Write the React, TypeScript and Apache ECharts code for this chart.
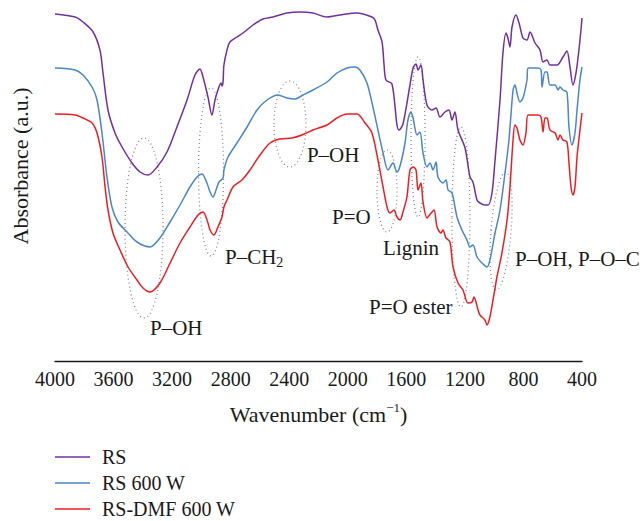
import React, { useEffect, useRef } from "react";
import * as echarts from "echarts";

// Wavenumber (cm^-1), absorbance (a.u.)
const rsData: [number, number][] = [
  [4000, 347], [3863, 344], [3809, 339], [3740, 329], [3693, 311], [3672, 288], [3638, 251],
  [3590, 228], [3542, 214], [3474, 198], [3419, 189], [3365, 186], [3303, 194], [3235, 209],
  [3167, 234], [3098, 261], [3044, 286], [3010, 292], [2989, 284], [2955, 264], [2928, 246],
  [2907, 261], [2887, 271], [2866, 278], [2859, 275], [2852, 279], [2846, 296], [2825, 311],
  [2805, 319], [2757, 324], [2716, 328], [2647, 336], [2579, 342], [2511, 344], [2415, 348],
  [2326, 349], [2238, 348], [2142, 344], [2053, 346], [1937, 348], [1835, 344], [1814, 341],
  [1794, 331], [1766, 319], [1752, 296], [1739, 281], [1698, 277], [1664, 236], [1650, 231],
  [1623, 237], [1575, 276], [1554, 293], [1534, 297], [1520, 291], [1500, 296], [1486, 281],
  [1459, 256], [1425, 251], [1397, 253], [1370, 244], [1336, 249], [1309, 251], [1288, 241],
  [1268, 249], [1247, 231], [1199, 213], [1165, 184], [1145, 179], [1117, 161], [1097, 158],
  [1063, 156], [1042, 156], [1015, 168], [994, 201], [960, 261], [940, 308], [919, 328],
  [906, 323], [892, 314], [878, 334], [851, 346], [830, 338], [803, 323], [776, 321],
  [755, 329], [721, 318], [687, 311], [666, 299], [639, 301], [619, 296], [571, 296],
  [530, 304], [503, 310], [482, 294], [462, 276], [441, 288], [421, 311], [407, 331], [400, 343],
];

const rs600Data: [number, number][] = [
  [4000, 293], [3863, 291], [3809, 286], [3747, 274], [3713, 261], [3679, 228], [3645, 184],
  [3611, 154], [3570, 139], [3508, 129], [3440, 119], [3351, 114], [3283, 123], [3214, 139],
  [3146, 156], [3078, 174], [3030, 184], [2996, 187], [2962, 178], [2941, 169], [2921, 164],
  [2900, 171], [2880, 179], [2852, 183], [2846, 191], [2818, 204], [2757, 218], [2688, 234],
  [2620, 251], [2552, 261], [2477, 266], [2415, 263], [2361, 262], [2306, 266], [2238, 271],
  [2142, 279], [2074, 288], [2005, 293], [1951, 294], [1917, 291], [1869, 278], [1828, 254],
  [1794, 231], [1759, 208], [1725, 191], [1691, 198], [1664, 189], [1643, 195], [1609, 218],
  [1589, 241], [1568, 249], [1554, 243], [1527, 226], [1507, 229], [1486, 208], [1459, 194],
  [1438, 198], [1418, 191], [1397, 199], [1384, 184], [1350, 178], [1329, 181], [1315, 171],
  [1288, 168], [1254, 144], [1220, 131], [1186, 121], [1165, 114], [1145, 116], [1117, 104],
  [1083, 98], [1049, 94], [1029, 101], [994, 128], [960, 151], [926, 188], [899, 221],
  [871, 271], [858, 276], [844, 268], [824, 259], [803, 263], [776, 281], [769, 293],
  [735, 293], [701, 293], [680, 291], [673, 274], [653, 289], [639, 289], [619, 276],
  [584, 276], [564, 271], [550, 274], [530, 271], [503, 269], [489, 234], [468, 216],
  [448, 228], [434, 251], [414, 281], [400, 294],
];

const rsDmfData: [number, number][] = [
  [4000, 247], [3863, 246], [3809, 243], [3747, 238], [3713, 228], [3679, 204], [3658, 174],
  [3638, 151], [3604, 128], [3556, 111], [3501, 94], [3440, 81], [3399, 73], [3351, 69],
  [3283, 78], [3214, 98], [3146, 118], [3078, 134], [3023, 146], [2989, 149], [2955, 138],
  [2941, 131], [2914, 126], [2887, 134], [2859, 144], [2846, 154], [2825, 161], [2784, 174],
  [2723, 181], [2668, 191], [2600, 206], [2531, 218], [2463, 222], [2381, 223], [2313, 226],
  [2238, 231], [2142, 236], [2074, 243], [2005, 247], [1937, 247], [1882, 238], [1835, 228],
  [1794, 201], [1759, 174], [1732, 154], [1712, 148], [1684, 151], [1664, 144], [1643, 141],
  [1623, 149], [1596, 164], [1575, 191], [1554, 194], [1534, 191], [1520, 171], [1500, 178],
  [1486, 159], [1459, 143], [1431, 148], [1411, 151], [1390, 134], [1363, 128], [1350, 131],
  [1329, 123], [1302, 119], [1281, 94], [1247, 78], [1213, 71], [1179, 58], [1151, 59],
  [1138, 64], [1110, 51], [1097, 46], [1063, 41], [1049, 36], [1029, 44], [1008, 61],
  [981, 84], [947, 108], [912, 141], [892, 174], [871, 221], [858, 236], [844, 233],
  [824, 221], [803, 216], [783, 228], [769, 246], [735, 246], [701, 246], [680, 244],
  [666, 229], [653, 243], [639, 243], [619, 231], [584, 228], [564, 221], [550, 226],
  [530, 221], [503, 219], [489, 198], [475, 174], [462, 166], [448, 174], [434, 204],
  [414, 231], [400, 248],
];

const seriesNames = ["RS", "RS 600 W", "RS-DMF 600 W"];
const seriesColors = ["#7030A0", "#4A86C8", "#EE1D24"];

// Band annotations: [wavenumber, absorbance] centre of the dotted ellipse
const bandEllipses = [
  { w: 3392, v: 133, rx: 19, ry: 90, rot: 0 },
  { w: 2934, v: 189, rx: 12.5, ry: 84, rot: 0 },
  { w: 2395, v: 237, rx: 16, ry: 43, rot: 0 },
  { w: 1732, v: 170, rx: 10, ry: 41, rot: 0 },
  { w: 1520, v: 224, rx: 7, ry: 80, rot: 0 },
  { w: 1227, v: 144, rx: 9, ry: 90, rot: 0 },
  { w: 953, v: 130, rx: 10, ry: 59, rot: -0.08 },
];

const bandLabels = [
  { w: 3351, v: 33, text: "{a|P–OH}" },
  { w: 2839, v: 104, text: "{a|P–CH}{sub|2}" },
  { w: 2279, v: 206, text: "{a|P–OH}" },
  { w: 2108, v: 144, text: "{a|P=O}" },
  { w: 1759, v: 113, text: "{a|Lignin}" },
  { w: 1855, v: 54, text: "{a|P=O ester}" },
  { w: 858, v: 102, text: "{a|P–OH, P–O–C}" },
];

const FONT = "'Liberation Serif', 'Times New Roman', serif";
const TEXT = "#1a1a1a";

export default function App() {
  const ref = useRef<HTMLDivElement>(null);

  useEffect(() => {
    const chart = echarts.init(ref.current!, null, { renderer: "svg" });
    const datasets = [rsData, rs600Data, rsDmfData];
    chart.setOption({
      animation: false,
      backgroundColor: "#ffffff",
      grid: { left: 55, right: 62, top: 1, bottom: 160 },
      xAxis: {
        type: "value",
        min: 400,
        max: 4000,
        interval: 400,
        inverse: true,
        axisLine: { show: true, lineStyle: { color: "#1a1a1a", width: 1.3 } },
        axisTick: { show: false },
        splitLine: { show: false },
        axisLabel: {
          color: TEXT,
          fontFamily: FONT,
          fontSize: 20,
          margin: 8,
          formatter: (v: number) => String(v),
        },
        name: "{a|Wavenumber (cm}{s|−1}{a|)}",
        nameLocation: "middle",
        nameGap: 40,
        nameTextStyle: {
          rich: {
            a: { fontFamily: FONT, fontSize: 22, color: TEXT, lineHeight: 26 },
            s: { fontFamily: FONT, fontSize: 13, color: TEXT, lineHeight: 12, verticalAlign: "top" },
          },
        },
      },
      yAxis: {
        type: "value",
        min: 0,
        max: 360,
        show: false,
      },
      legend: {
        orient: "vertical",
        left: 55,
        top: 447,
        padding: 0,
        icon: "rect",
        itemWidth: 35,
        itemHeight: 1.5,
        itemGap: 6,
        data: seriesNames,
        textStyle: { fontFamily: FONT, fontSize: 20, color: TEXT, lineHeight: 20, padding: [0, 0, 0, 7] },
      },
      series: datasets.map((d, i) => ({
        type: "line",
        name: seriesNames[i],
        data: d,
        symbol: "none",
        smooth: 0.3,
        lineStyle: { color: seriesColors[i], width: 1.5 },
        itemStyle: { color: seriesColors[i] },
      })),
    });

    const graphics: any[] = [];
    bandEllipses.forEach((e) => {
      const [x, y] = chart.convertToPixel({ gridIndex: 0 }, [e.w, e.v]);
      graphics.push({
        type: "ellipse",
        x,
        y,
        rotation: e.rot,
        shape: { cx: 0, cy: 0, rx: e.rx, ry: e.ry },
        style: { fill: "none", stroke: "#8a8a8a", lineWidth: 1.3, lineDash: [1, 3] },
        silent: true,
      });
    });
    bandLabels.forEach((l) => {
      const [x, y] = chart.convertToPixel({ gridIndex: 0 }, [l.w, l.v]);
      graphics.push({
        type: "text",
        x,
        y,
        style: {
          text: l.text,
          align: "left",
          verticalAlign: "middle",
          rich: {
            a: { fontFamily: FONT, fontSize: 21, fill: TEXT, lineHeight: 24 },
            sub: { fontFamily: FONT, fontSize: 14, fill: TEXT, lineHeight: 12, verticalAlign: "bottom" },
          },
        },
        silent: true,
      });
    });
    graphics.push({
      type: "text",
      x: 20,
      y: 166,
      rotation: Math.PI / 2,
      style: {
        text: "Absorbance (a.u.)",
        fontFamily: FONT,
        fontSize: 22,
        fill: TEXT,
        align: "center",
        verticalAlign: "middle",
      },
      silent: true,
    });
    chart.setOption({ graphic: graphics });

    return () => chart.dispose();
  }, []);

  return (
    <div
      ref={ref}
      style={{ position: "fixed", left: 0, top: 0, width: 644, height: 521 }}
    />
  );
}
